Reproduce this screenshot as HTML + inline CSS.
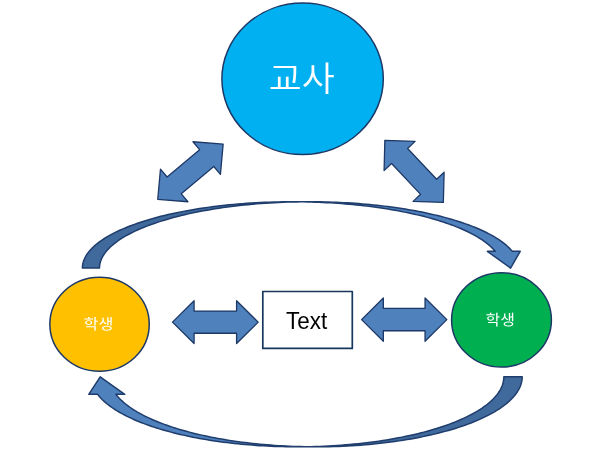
<!DOCTYPE html>
<html lang="ko">
<head>
<meta charset="utf-8">
<title>교사 학생 Text</title>
<style>
html, body { margin: 0; padding: 0; background: #ffffff; }
body { width: 600px; height: 450px; overflow: hidden; }
svg { display: block; will-change: transform; }
.ko { font-family: "Liberation Sans", "Noto Sans CJK KR", "NanumGothic", sans-serif; }
.la { font-family: "Liberation Sans", "Noto Sans CJK KR", sans-serif; }
</style>
</head>
<body>
<svg width="600" height="450" viewBox="0 0 600 450">
<rect x="0" y="0" width="600" height="450" fill="#ffffff"/>
<path d="M510.59,268.10 L487.37,251.35 L495.25,251.35 L494.24,250.18 L493.18,249.02 L492.04,247.86 L490.84,246.71 L489.57,245.56 L488.23,244.43 L486.83,243.30 L485.37,242.18 L483.84,241.07 L482.24,239.96 L480.58,238.87 L478.86,237.79 L477.08,236.71 L475.24,235.65 L473.33,234.60 L471.37,233.56 L469.34,232.53 L467.26,231.51 L465.11,230.51 L462.91,229.51 L460.65,228.53 L458.34,227.57 L455.97,226.61 L453.54,225.67 L451.07,224.75 L448.54,223.84 L445.95,222.94 L443.32,222.06 L440.63,221.20 L437.90,220.35 L435.11,219.51 L432.28,218.70 L429.40,217.90 L426.48,217.11 L423.51,216.34 L420.50,215.59 L417.44,214.86 L414.35,214.15 L411.21,213.45 L408.03,212.77 L404.82,212.11 L401.56,211.47 L398.27,210.85 L394.95,210.25 L391.59,209.66 L388.19,209.10 L384.77,208.55 L381.31,208.03 L377.83,207.52 L374.31,207.04 L370.77,206.57 L367.20,206.13 L363.61,205.71 L359.99,205.31 L356.35,204.93 L352.69,204.57 L349.01,204.23 L345.31,203.91 L341.59,203.61 L337.86,203.34 L334.11,203.09 L330.35,202.85 L326.57,202.65 L322.78,202.46 L318.99,202.29 L315.18,202.15 L311.36,202.03 L307.54,201.93 L303.72,201.85 L299.89,201.79 L296.05,201.76 L292.22,201.75 L309.31,201.75 L313.14,201.76 L316.97,201.79 L320.80,201.85 L324.63,201.93 L328.45,202.03 L332.26,202.15 L336.07,202.29 L339.87,202.46 L343.66,202.65 L347.43,202.85 L351.20,203.09 L354.94,203.34 L358.68,203.61 L362.40,203.91 L366.10,204.23 L369.78,204.57 L373.44,204.93 L377.08,205.31 L380.70,205.71 L384.29,206.13 L387.86,206.57 L391.40,207.04 L394.91,207.52 L398.40,208.03 L401.85,208.55 L405.28,209.10 L408.67,209.66 L412.03,210.25 L415.36,210.85 L418.65,211.47 L421.90,212.11 L425.12,212.77 L428.30,213.45 L431.43,214.15 L434.53,214.86 L437.59,215.59 L440.60,216.34 L443.57,217.11 L446.49,217.90 L449.37,218.70 L452.20,219.51 L454.98,220.35 L457.72,221.20 L460.40,222.06 L463.04,222.94 L465.62,223.84 L468.15,224.75 L470.63,225.67 L473.05,226.61 L475.42,227.57 L477.74,228.53 L480.00,229.51 L482.20,230.51 L484.34,231.51 L486.43,232.53 L488.45,233.56 L490.42,234.60 L492.32,235.65 L494.17,236.71 L495.95,237.79 L497.67,238.87 L499.33,239.96 L500.92,241.07 L502.45,242.18 L503.92,243.30 L505.32,244.43 L506.65,245.56 L507.92,246.71 L509.12,247.86 L510.26,249.02 L511.33,250.18 L512.33,251.35 L520.20,251.35Z" fill="#4f81bd"/>
<path d="M300.76,201.81 L296.31,201.88 L291.86,201.98 L287.42,202.11 L283.00,202.27 L278.58,202.47 L274.17,202.69 L269.79,202.94 L265.42,203.22 L261.07,203.53 L256.74,203.87 L252.43,204.23 L248.16,204.63 L243.90,205.06 L239.68,205.51 L235.49,205.99 L231.33,206.50 L227.21,207.04 L223.13,207.60 L219.08,208.20 L215.08,208.82 L211.12,209.46 L207.20,210.14 L203.33,210.84 L199.50,211.56 L195.73,212.31 L192.00,213.09 L188.33,213.89 L184.72,214.71 L181.16,215.56 L177.66,216.44 L174.22,217.33 L170.83,218.25 L167.52,219.19 L164.26,220.16 L161.07,221.14 L157.95,222.15 L154.90,223.18 L151.91,224.22 L149.00,225.29 L146.16,226.38 L143.39,227.48 L140.70,228.61 L138.08,229.75 L135.55,230.91 L133.09,232.08 L130.71,233.28 L128.41,234.48 L126.19,235.71 L124.05,236.95 L122.00,238.20 L120.03,239.46 L118.15,240.74 L116.36,242.03 L114.65,243.33 L113.03,244.65 L111.50,245.97 L110.06,247.31 L108.70,248.65 L107.44,250.00 L106.27,251.36 L105.19,252.73 L104.21,254.11 L103.31,255.49 L102.51,256.87 L101.80,258.27 L101.19,259.66 L100.67,261.06 L100.24,262.47 L99.91,263.87 L99.67,265.28 L99.53,266.69 L99.49,268.10 L82.40,268.10 L82.45,266.62 L82.61,265.13 L82.87,263.65 L83.24,262.17 L83.71,260.69 L84.29,259.22 L84.97,257.75 L85.75,256.28 L86.64,254.82 L87.63,253.37 L88.73,251.93 L89.92,250.49 L91.22,249.07 L92.62,247.65 L94.11,246.24 L95.71,244.84 L97.41,243.46 L99.20,242.09 L101.09,240.73 L103.07,239.38 L105.15,238.05 L107.33,236.73 L109.59,235.43 L111.95,234.15 L114.40,232.88 L116.94,231.63 L119.56,230.40 L122.27,229.19 L125.07,227.99 L127.95,226.82 L130.91,225.67 L133.96,224.54 L137.08,223.43 L140.28,222.34 L143.56,221.28 L146.91,220.24 L150.33,219.22 L153.83,218.23 L157.39,217.26 L161.02,216.32 L164.72,215.41 L168.48,214.52 L172.30,213.65 L176.19,212.82 L180.13,212.01 L184.13,211.23 L188.18,210.48 L192.28,209.76 L196.44,209.07 L200.64,208.40 L204.89,207.77 L209.18,207.17 L213.51,206.60 L217.88,206.05 L222.29,205.54 L226.74,205.06 L231.22,204.62 L235.72,204.20 L240.26,203.82 L244.82,203.47 L249.41,203.15 L254.02,202.86 L258.64,202.61 L263.29,202.38 L267.95,202.20 L272.62,202.04 L277.30,201.92 L281.99,201.83 L286.68,201.77 L291.37,201.75 L296.07,201.76 L300.76,201.81Z" fill="#40699c"/>
<path d="M300.76,201.81 L296.31,201.88 L291.86,201.98 L287.42,202.11 L283.00,202.27 L278.58,202.47 L274.17,202.69 L269.79,202.94 L265.42,203.22 L261.07,203.53 L256.74,203.87 L252.43,204.23 L248.16,204.63 L243.90,205.06 L239.68,205.51 L235.49,205.99 L231.33,206.50 L227.21,207.04 L223.13,207.60 L219.08,208.20 L215.08,208.82 L211.12,209.46 L207.20,210.14 L203.33,210.84 L199.50,211.56 L195.73,212.31 L192.00,213.09 L188.33,213.89 L184.72,214.71 L181.16,215.56 L177.66,216.44 L174.22,217.33 L170.83,218.25 L167.52,219.19 L164.26,220.16 L161.07,221.14 L157.95,222.15 L154.90,223.18 L151.91,224.22 L149.00,225.29 L146.16,226.38 L143.39,227.48 L140.70,228.61 L138.08,229.75 L135.55,230.91 L133.09,232.08 L130.71,233.28 L128.41,234.48 L126.19,235.71 L124.05,236.95 L122.00,238.20 L120.03,239.46 L118.15,240.74 L116.36,242.03 L114.65,243.33 L113.03,244.65 L111.50,245.97 L110.06,247.31 L108.70,248.65 L107.44,250.00 L106.27,251.36 L105.19,252.73 L104.21,254.11 L103.31,255.49 L102.51,256.87 L101.80,258.27 L101.19,259.66 L100.67,261.06 L100.24,262.47 L99.91,263.87 L99.67,265.28 L99.53,266.69 L99.49,268.10 L82.40,268.10 L82.45,266.65 L82.60,265.21 L82.85,263.76 L83.20,262.32 L83.65,260.88 L84.20,259.44 L84.84,258.01 L85.59,256.58 L86.43,255.16 L87.37,253.74 L88.41,252.33 L89.55,250.93 L90.78,249.53 L92.11,248.15 L93.54,246.77 L95.05,245.41 L96.67,244.05 L98.37,242.71 L100.17,241.38 L102.06,240.06 L104.04,238.75 L106.11,237.46 L108.27,236.19 L110.51,234.93 L112.84,233.68 L115.26,232.45 L117.76,231.24 L120.35,230.04 L123.01,228.87 L125.76,227.71 L128.58,226.57 L131.49,225.45 L134.47,224.35 L137.52,223.27 L140.65,222.22 L143.86,221.18 L147.13,220.17 L150.47,219.18 L153.88,218.22 L157.35,217.27 L160.89,216.35 L164.49,215.46 L168.15,214.59 L171.87,213.75 L175.65,212.93 L179.48,212.14 L183.37,211.38 L187.31,210.64 L191.30,209.93 L195.34,209.25 L199.42,208.59 L203.55,207.97 L207.72,207.37 L211.93,206.80 L216.17,206.26 L220.46,205.75 L224.78,205.27 L229.13,204.82 L233.51,204.40 L237.92,204.01 L242.35,203.65 L246.81,203.32 L251.29,203.02 L255.79,202.76 L260.30,202.52 L264.83,202.32 L269.38,202.14 L273.93,202.00 L278.50,201.89 L283.07,201.81 L287.64,201.77 L292.22,201.75 L309.31,201.75 L313.14,201.76 L316.97,201.79 L320.80,201.85 L324.63,201.93 L328.45,202.03 L332.26,202.15 L336.07,202.29 L339.87,202.46 L343.66,202.65 L347.43,202.85 L351.20,203.09 L354.94,203.34 L358.68,203.61 L362.40,203.91 L366.10,204.23 L369.78,204.57 L373.44,204.93 L377.08,205.31 L380.70,205.71 L384.29,206.13 L387.86,206.57 L391.40,207.04 L394.91,207.52 L398.40,208.03 L401.85,208.55 L405.28,209.10 L408.67,209.66 L412.03,210.25 L415.36,210.85 L418.65,211.47 L421.90,212.11 L425.12,212.77 L428.30,213.45 L431.43,214.15 L434.53,214.86 L437.59,215.59 L440.60,216.34 L443.57,217.11 L446.49,217.90 L449.37,218.70 L452.20,219.51 L454.98,220.35 L457.72,221.20 L460.40,222.06 L463.04,222.94 L465.62,223.84 L468.15,224.75 L470.63,225.67 L473.05,226.61 L475.42,227.57 L477.74,228.53 L480.00,229.51 L482.20,230.51 L484.34,231.51 L486.43,232.53 L488.45,233.56 L490.42,234.60 L492.32,235.65 L494.17,236.71 L495.95,237.79 L497.67,238.87 L499.33,239.96 L500.92,241.07 L502.45,242.18 L503.92,243.30 L505.32,244.43 L506.65,245.56 L507.92,246.71 L509.12,247.86 L510.26,249.02 L511.33,250.18 L512.33,251.35 L520.20,251.35 L510.59,268.10 L487.37,251.35 L495.25,251.35 L494.24,250.18 L493.18,249.02 L492.04,247.86 L490.84,246.71 L489.57,245.56 L488.23,244.43 L486.83,243.30 L485.37,242.18 L483.84,241.07 L482.24,239.96 L480.58,238.87 L478.86,237.79 L477.08,236.71 L475.24,235.65 L473.33,234.60 L471.37,233.56 L469.34,232.53 L467.26,231.51 L465.11,230.51 L462.91,229.51 L460.65,228.53 L458.34,227.57 L455.97,226.61 L453.54,225.67 L451.07,224.75 L448.54,223.84 L445.95,222.94 L443.32,222.06 L440.63,221.20 L437.90,220.35 L435.11,219.51 L432.28,218.70 L429.40,217.90 L426.48,217.11 L423.51,216.34 L420.50,215.59 L417.44,214.86 L414.35,214.15 L411.21,213.45 L408.03,212.77 L404.82,212.11 L401.56,211.47 L398.27,210.85 L394.95,210.25 L391.59,209.66 L388.19,209.10 L384.77,208.55 L381.31,208.03 L377.83,207.52 L374.31,207.04 L370.77,206.57 L367.20,206.13 L363.61,205.71 L359.99,205.31 L356.35,204.93 L352.69,204.57 L349.01,204.23 L345.31,203.91 L341.59,203.61 L337.86,203.34 L334.11,203.09 L330.35,202.85 L326.57,202.65 L322.78,202.46 L318.99,202.29 L315.18,202.15 L311.36,202.03 L307.54,201.93 L303.72,201.85 L299.89,201.79 L296.05,201.76 L292.22,201.75" fill="none" stroke="#1f3d6d" stroke-width="1.5" stroke-linejoin="round"/>
<path d="M100.20,376.80 L124.75,394.30 L115.93,394.30 L116.91,395.53 L117.95,396.77 L119.06,397.99 L120.24,399.21 L121.48,400.42 L122.79,401.62 L124.16,402.81 L125.60,404.00 L127.10,405.18 L128.66,406.34 L130.29,407.50 L131.98,408.65 L133.73,409.78 L135.54,410.91 L137.41,412.02 L139.34,413.12 L141.33,414.21 L143.38,415.29 L145.49,416.35 L147.65,417.40 L149.87,418.44 L152.15,419.46 L154.48,420.47 L156.86,421.47 L159.30,422.45 L161.79,423.41 L164.33,424.36 L166.92,425.29 L169.57,426.21 L172.26,427.11 L175.00,427.99 L177.79,428.85 L180.62,429.70 L183.50,430.53 L186.42,431.34 L189.39,432.14 L192.39,432.91 L195.44,433.67 L198.53,434.41 L201.66,435.13 L204.83,435.83 L208.04,436.50 L211.28,437.16 L214.55,437.80 L217.86,438.42 L221.21,439.02 L224.58,439.59 L227.99,440.15 L231.42,440.69 L234.88,441.20 L238.37,441.69 L241.89,442.16 L245.43,442.61 L248.99,443.03 L252.58,443.44 L256.19,443.82 L259.82,444.18 L263.46,444.51 L267.13,444.83 L270.81,445.12 L274.50,445.39 L278.21,445.63 L281.93,445.85 L285.67,446.05 L289.41,446.23 L293.16,446.38 L296.92,446.51 L300.69,446.61 L304.46,446.69 L308.23,446.75 L312.01,446.79 L315.79,446.80 L297.43,446.80 L293.65,446.79 L289.87,446.75 L286.10,446.69 L282.33,446.61 L278.56,446.51 L274.80,446.38 L271.05,446.23 L267.31,446.05 L263.57,445.85 L259.85,445.63 L256.14,445.39 L252.45,445.12 L248.77,444.83 L245.10,444.51 L241.46,444.18 L237.83,443.82 L234.22,443.44 L230.63,443.03 L227.07,442.61 L223.53,442.16 L220.01,441.69 L216.52,441.20 L213.06,440.69 L209.63,440.15 L206.22,439.59 L202.85,439.02 L199.50,438.42 L196.19,437.80 L192.92,437.16 L189.68,436.50 L186.47,435.83 L183.30,435.13 L180.17,434.41 L177.08,433.67 L174.03,432.91 L171.03,432.14 L168.06,431.34 L165.14,430.53 L162.26,429.70 L159.43,428.85 L156.64,427.99 L153.90,427.11 L151.21,426.21 L148.56,425.29 L145.97,424.36 L143.43,423.41 L140.94,422.45 L138.50,421.47 L136.12,420.47 L133.79,419.46 L131.51,418.44 L129.29,417.40 L127.13,416.35 L125.02,415.29 L122.97,414.21 L120.98,413.12 L119.05,412.02 L117.18,410.91 L115.37,409.78 L113.62,408.65 L111.93,407.50 L110.30,406.34 L108.74,405.18 L107.24,404.00 L105.80,402.81 L104.43,401.62 L103.12,400.42 L101.88,399.21 L100.70,397.99 L99.59,396.77 L98.55,395.53 L97.57,394.30 L88.75,394.30Z" fill="#4f81bd"/>
<path d="M306.61,446.73 L310.98,446.65 L315.34,446.54 L319.70,446.39 L324.04,446.22 L328.37,446.01 L332.69,445.77 L337.00,445.50 L341.28,445.20 L345.55,444.87 L349.79,444.51 L354.01,444.12 L358.21,443.70 L362.37,443.24 L366.51,442.76 L370.62,442.25 L374.69,441.71 L378.73,441.14 L382.74,440.54 L386.70,439.91 L390.63,439.26 L394.51,438.57 L398.35,437.86 L402.14,437.12 L405.89,436.36 L409.59,435.56 L413.24,434.74 L416.83,433.90 L420.37,433.03 L423.86,432.13 L427.29,431.21 L430.66,430.26 L433.97,429.29 L437.23,428.30 L440.41,427.28 L443.54,426.25 L446.59,425.18 L449.58,424.10 L452.51,423.00 L455.36,421.87 L458.14,420.73 L460.85,419.56 L463.49,418.38 L466.05,417.17 L468.53,415.95 L470.94,414.71 L473.27,413.46 L475.53,412.19 L477.70,410.90 L479.79,409.59 L481.80,408.28 L483.72,406.94 L485.56,405.60 L487.32,404.24 L488.99,402.87 L490.58,401.48 L492.08,400.09 L493.49,398.69 L494.82,397.27 L496.05,395.85 L497.20,394.42 L498.25,392.98 L499.22,391.53 L500.09,390.07 L500.88,388.61 L501.57,387.15 L502.17,385.68 L502.68,384.21 L503.10,382.73 L503.42,381.25 L503.65,379.77 L503.79,378.28 L503.84,376.80 L522.20,376.80 L522.15,378.37 L521.99,379.94 L521.73,381.51 L521.37,383.07 L520.90,384.64 L520.33,386.19 L519.66,387.75 L518.88,389.30 L518.01,390.84 L517.03,392.37 L515.95,393.90 L514.77,395.42 L513.48,396.93 L512.10,398.43 L510.62,399.91 L509.04,401.39 L507.37,402.85 L505.60,404.31 L503.73,405.74 L501.77,407.17 L499.71,408.57 L497.57,409.96 L495.33,411.34 L493.00,412.70 L490.58,414.03 L488.07,415.35 L485.48,416.66 L482.80,417.94 L480.03,419.20 L477.19,420.44 L474.26,421.65 L471.26,422.85 L468.17,424.02 L465.01,425.17 L461.77,426.29 L458.46,427.39 L455.08,428.46 L451.63,429.51 L448.11,430.53 L444.52,431.52 L440.87,432.48 L437.15,433.42 L433.38,434.33 L429.54,435.21 L425.65,436.06 L421.70,436.88 L417.70,437.67 L413.65,438.43 L409.55,439.16 L405.40,439.86 L401.20,440.53 L396.97,441.16 L392.69,441.76 L388.37,442.33 L384.02,442.86 L379.63,443.37 L375.21,443.84 L370.77,444.27 L366.29,444.67 L361.79,445.04 L357.26,445.37 L352.71,445.67 L348.15,445.93 L343.57,446.16 L338.97,446.36 L334.37,446.52 L329.75,446.64 L325.13,446.73 L320.50,446.78 L315.87,446.80 L311.24,446.78 L306.61,446.73Z" fill="#40699c"/>
<path d="M306.61,446.73 L310.98,446.65 L315.34,446.54 L319.70,446.39 L324.04,446.22 L328.37,446.01 L332.69,445.77 L337.00,445.50 L341.28,445.20 L345.55,444.87 L349.79,444.51 L354.01,444.12 L358.21,443.70 L362.37,443.24 L366.51,442.76 L370.62,442.25 L374.69,441.71 L378.73,441.14 L382.74,440.54 L386.70,439.91 L390.63,439.26 L394.51,438.57 L398.35,437.86 L402.14,437.12 L405.89,436.36 L409.59,435.56 L413.24,434.74 L416.83,433.90 L420.37,433.03 L423.86,432.13 L427.29,431.21 L430.66,430.26 L433.97,429.29 L437.23,428.30 L440.41,427.28 L443.54,426.25 L446.59,425.18 L449.58,424.10 L452.51,423.00 L455.36,421.87 L458.14,420.73 L460.85,419.56 L463.49,418.38 L466.05,417.17 L468.53,415.95 L470.94,414.71 L473.27,413.46 L475.53,412.19 L477.70,410.90 L479.79,409.59 L481.80,408.28 L483.72,406.94 L485.56,405.60 L487.32,404.24 L488.99,402.87 L490.58,401.48 L492.08,400.09 L493.49,398.69 L494.82,397.27 L496.05,395.85 L497.20,394.42 L498.25,392.98 L499.22,391.53 L500.09,390.07 L500.88,388.61 L501.57,387.15 L502.17,385.68 L502.68,384.21 L503.10,382.73 L503.42,381.25 L503.65,379.77 L503.79,378.28 L503.84,376.80 L522.20,376.80 L522.15,378.33 L522.00,379.85 L521.76,381.38 L521.41,382.90 L520.97,384.42 L520.43,385.94 L519.80,387.45 L519.06,388.96 L518.23,390.46 L517.31,391.95 L516.28,393.44 L515.17,394.92 L513.95,396.39 L512.65,397.85 L511.25,399.30 L509.75,400.74 L508.17,402.17 L506.49,403.59 L504.72,404.99 L502.86,406.38 L500.91,407.76 L498.88,409.12 L496.76,410.47 L494.55,411.80 L492.25,413.11 L489.87,414.41 L487.41,415.69 L484.87,416.95 L482.25,418.19 L479.55,419.41 L476.77,420.61 L473.91,421.80 L470.98,422.95 L467.97,424.09 L464.89,425.21 L461.74,426.30 L458.53,427.37 L455.24,428.41 L451.89,429.43 L448.47,430.42 L444.99,431.39 L441.44,432.33 L437.84,433.25 L434.18,434.14 L430.47,435.00 L426.69,435.84 L422.87,436.64 L419.00,437.42 L415.07,438.17 L411.10,438.89 L407.08,439.58 L403.02,440.24 L398.92,440.87 L394.78,441.47 L390.60,442.04 L386.39,442.58 L382.14,443.09 L377.86,443.56 L373.55,444.00 L369.21,444.41 L364.85,444.79 L360.47,445.14 L356.06,445.45 L351.63,445.74 L347.19,445.99 L342.73,446.20 L338.26,446.38 L333.78,446.53 L329.29,446.65 L324.79,446.73 L320.29,446.78 L315.79,446.80 L297.43,446.80 L293.65,446.79 L289.87,446.75 L286.10,446.69 L282.33,446.61 L278.56,446.51 L274.80,446.38 L271.05,446.23 L267.31,446.05 L263.57,445.85 L259.85,445.63 L256.14,445.39 L252.45,445.12 L248.77,444.83 L245.10,444.51 L241.46,444.18 L237.83,443.82 L234.22,443.44 L230.63,443.03 L227.07,442.61 L223.53,442.16 L220.01,441.69 L216.52,441.20 L213.06,440.69 L209.63,440.15 L206.22,439.59 L202.85,439.02 L199.50,438.42 L196.19,437.80 L192.92,437.16 L189.68,436.50 L186.47,435.83 L183.30,435.13 L180.17,434.41 L177.08,433.67 L174.03,432.91 L171.03,432.14 L168.06,431.34 L165.14,430.53 L162.26,429.70 L159.43,428.85 L156.64,427.99 L153.90,427.11 L151.21,426.21 L148.56,425.29 L145.97,424.36 L143.43,423.41 L140.94,422.45 L138.50,421.47 L136.12,420.47 L133.79,419.46 L131.51,418.44 L129.29,417.40 L127.13,416.35 L125.02,415.29 L122.97,414.21 L120.98,413.12 L119.05,412.02 L117.18,410.91 L115.37,409.78 L113.62,408.65 L111.93,407.50 L110.30,406.34 L108.74,405.18 L107.24,404.00 L105.80,402.81 L104.43,401.62 L103.12,400.42 L101.88,399.21 L100.70,397.99 L99.59,396.77 L98.55,395.53 L97.57,394.30 L88.75,394.30 L100.20,376.80 L124.75,394.30 L115.93,394.30 L116.91,395.53 L117.95,396.77 L119.06,397.99 L120.24,399.21 L121.48,400.42 L122.79,401.62 L124.16,402.81 L125.60,404.00 L127.10,405.18 L128.66,406.34 L130.29,407.50 L131.98,408.65 L133.73,409.78 L135.54,410.91 L137.41,412.02 L139.34,413.12 L141.33,414.21 L143.38,415.29 L145.49,416.35 L147.65,417.40 L149.87,418.44 L152.15,419.46 L154.48,420.47 L156.86,421.47 L159.30,422.45 L161.79,423.41 L164.33,424.36 L166.92,425.29 L169.57,426.21 L172.26,427.11 L175.00,427.99 L177.79,428.85 L180.62,429.70 L183.50,430.53 L186.42,431.34 L189.39,432.14 L192.39,432.91 L195.44,433.67 L198.53,434.41 L201.66,435.13 L204.83,435.83 L208.04,436.50 L211.28,437.16 L214.55,437.80 L217.86,438.42 L221.21,439.02 L224.58,439.59 L227.99,440.15 L231.42,440.69 L234.88,441.20 L238.37,441.69 L241.89,442.16 L245.43,442.61 L248.99,443.03 L252.58,443.44 L256.19,443.82 L259.82,444.18 L263.46,444.51 L267.13,444.83 L270.81,445.12 L274.50,445.39 L278.21,445.63 L281.93,445.85 L285.67,446.05 L289.41,446.23 L293.16,446.38 L296.92,446.51 L300.69,446.61 L304.46,446.69 L308.23,446.75 L312.01,446.79 L315.79,446.80" fill="none" stroke="#1f3d6d" stroke-width="1.5" stroke-linejoin="round"/>
<ellipse cx="302.6" cy="78.8" rx="80.7" ry="75.7" fill="#00b0f0" stroke="#1d3866" stroke-width="1.5"/>
<ellipse cx="99.55" cy="324.2" rx="49.7" ry="47.0" fill="#ffc000" stroke="#1d3866" stroke-width="1.5"/>
<ellipse cx="501.5" cy="319.9" rx="49.9" ry="47.2" fill="#00b050" stroke="#1d3866" stroke-width="1.5"/>
<rect x="262.8" y="291.5" width="89.5" height="56.9" fill="#ffffff" stroke="#17375e" stroke-width="1.7" stroke-linejoin="round"/>
<polygon points="-42.85,0.00 -21.25,-21.40 -21.25,-11.10 21.25,-11.10 21.25,-21.40 42.85,0.00 21.25,21.40 21.25,11.10 -21.25,11.10 -21.25,21.40" transform="translate(215.33 322.15) rotate(0)" fill="#4f81bd" stroke="#1d3866" stroke-width="1.3" stroke-linejoin="round"/>
<polygon points="-42.65,0.00 -20.85,-21.65 -20.85,-11.15 20.85,-11.15 20.85,-21.65 42.65,0.00 20.85,21.65 20.85,11.15 -20.85,11.15 -20.85,21.65" transform="translate(404.2 319.6) rotate(0)" fill="#4f81bd" stroke="#1d3866" stroke-width="1.3" stroke-linejoin="round"/>
<polygon points="-42.75,0.00 -21.25,-21.30 -21.25,-11.00 21.25,-11.00 21.25,-21.30 42.75,0.00 21.25,21.30 21.25,11.00 -21.25,11.00 -21.25,21.30" transform="translate(190.45 171.75) rotate(-40.1)" fill="#4f81bd" stroke="#1d3866" stroke-width="1.3" stroke-linejoin="round"/>
<polygon points="-42.65,0.00 -21.15,-21.30 -21.15,-11.00 21.15,-11.00 21.15,-21.30 42.65,0.00 21.15,21.30 21.15,11.00 -21.15,11.00 -21.15,21.30" transform="translate(414.1 171.4) rotate(46.7)" fill="#4f81bd" stroke="#1d3866" stroke-width="1.3" stroke-linejoin="round"/>
<text transform="translate(301.8 91.2) scale(1.025 0.97)" font-size="35" font-weight="350" fill="#ffffff" text-anchor="middle" class="ko">교사</text>
<text transform="translate(98.5 329.55) rotate(0.03) scale(1.07 1)" font-size="15.2" fill="#ffffff" text-anchor="middle" class="ko">학생</text>
<text transform="translate(500.2 325.2) rotate(0.03) scale(1.05 1)" font-size="15.2" fill="#ffffff" text-anchor="middle" class="ko">학생</text>
<text transform="translate(306.6 329) scale(0.975 1)" x="0" y="0" font-size="23" fill="#000000" text-anchor="middle" class="la">Text</text>
</svg>
</body>
</html>
